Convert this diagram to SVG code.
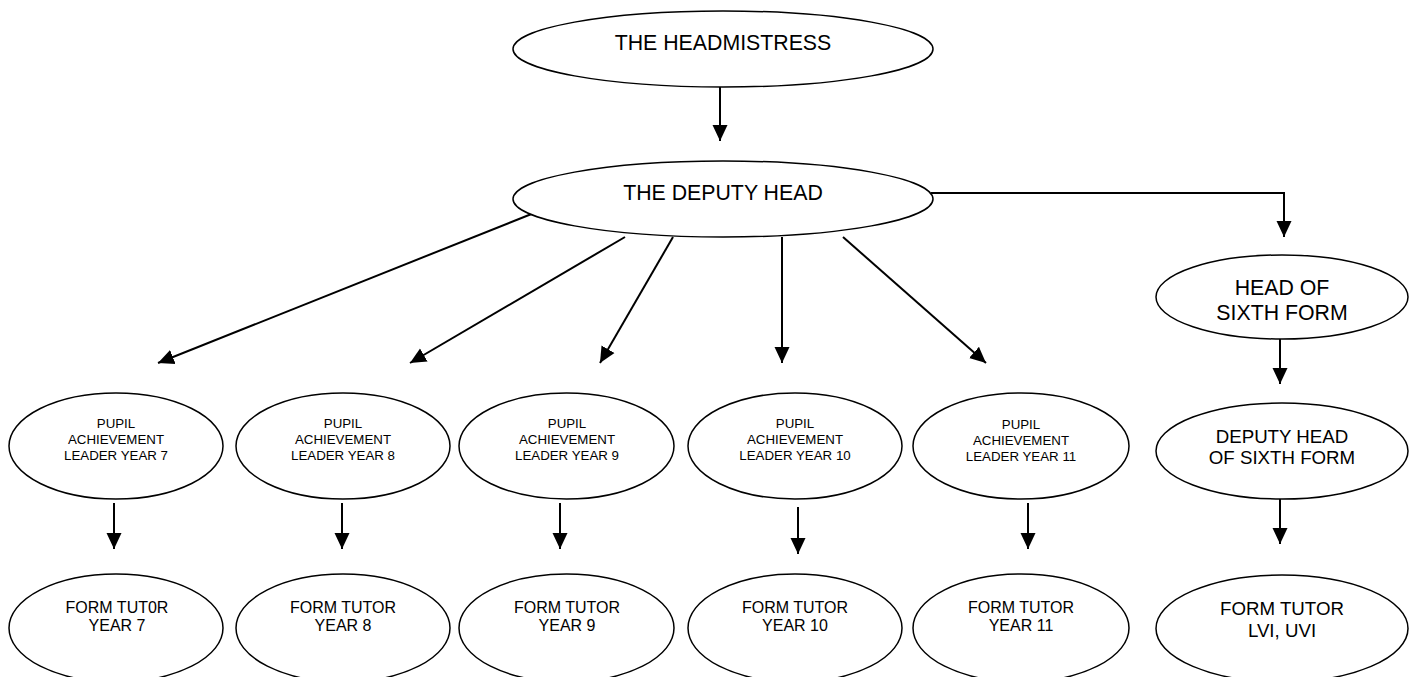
<svg xmlns="http://www.w3.org/2000/svg" width="1418" height="677" viewBox="0 0 1418 677">
<style>
  .node ellipse { fill: #ffffff; stroke: #000000; stroke-width: 1.5; }
  .node text { font-family: "Liberation Sans", Arial, sans-serif; fill: #000000; text-anchor: middle; }
  .big { font-size: 21.3px; }
  .mid { font-size: 18.7px; }
  .tut { font-size: 16px; }
  .small { font-size: 13.3px; }
  #connectors line, #connectors polyline { stroke: #000000; stroke-width: 2; fill: none; marker-end: url(#arrow); }
</style>
<defs>
  <marker id="arrow" markerUnits="userSpaceOnUse" markerWidth="17" markerHeight="16" viewBox="0 0 17 16" refX="16" refY="8" orient="auto">
    <path d="M0,0.5 L16,8 L0,15.5 z" fill="#000000"/>
  </marker>
</defs>
<rect width="1418" height="677" fill="#ffffff"/>

<g id="connectors">
  <line x1="720" y1="87" x2="720" y2="141"/>
  <polyline points="931,193 1284,193 1284,237"/>
  <line x1="534" y1="213" x2="158" y2="363"/>
  <line x1="625" y1="237" x2="410" y2="363"/>
  <line x1="673" y1="237" x2="600" y2="363"/>
  <line x1="782" y1="237" x2="782" y2="363"/>
  <line x1="843" y1="237" x2="986" y2="363"/>
  <line x1="114" y1="503" x2="114" y2="549"/>
  <line x1="342" y1="503" x2="342" y2="549"/>
  <line x1="560" y1="503" x2="560" y2="549"/>
  <line x1="798" y1="507" x2="798" y2="554"/>
  <line x1="1028" y1="503" x2="1028" y2="549"/>
  <line x1="1280" y1="339" x2="1280" y2="384"/>
  <line x1="1280" y1="499" x2="1280" y2="544"/>
</g>

<g id="headmistress" class="node">
  <ellipse cx="723" cy="49" rx="210" ry="38"/>
  <text class="big" x="723" y="50">THE HEADMISTRESS</text>
</g>
<g id="deputy-head" class="node">
  <ellipse cx="723" cy="199" rx="210" ry="38"/>
  <text class="big" x="723" y="200">THE DEPUTY HEAD</text>
</g>
<g id="head-sixth" class="node">
  <ellipse cx="1282" cy="297" rx="126" ry="42"/>
  <text class="big" x="1282" y="295">HEAD OF</text>
  <text class="big" x="1282" y="320">SIXTH FORM</text>
</g>
<g id="deputy-sixth" class="node">
  <ellipse cx="1282" cy="451" rx="126" ry="48"/>
  <text class="mid" x="1282" y="443">DEPUTY HEAD</text>
  <text class="mid" x="1282" y="464">OF SIXTH FORM</text>
</g>

<g id="pal-7" class="node">
  <ellipse cx="116" cy="446" rx="107" ry="53"/>
  <text class="small" x="116" y="428">PUPIL</text>
  <text class="small" x="116" y="444">ACHIEVEMENT</text>
  <text class="small" x="116" y="460">LEADER YEAR 7</text>
</g>
<g id="pal-8" class="node">
  <ellipse cx="343" cy="446" rx="107" ry="53"/>
  <text class="small" x="343" y="428">PUPIL</text>
  <text class="small" x="343" y="444">ACHIEVEMENT</text>
  <text class="small" x="343" y="460">LEADER YEAR 8</text>
</g>
<g id="pal-9" class="node">
  <ellipse cx="566.5" cy="446" rx="107.5" ry="53"/>
  <text class="small" x="567" y="428">PUPIL</text>
  <text class="small" x="567" y="444">ACHIEVEMENT</text>
  <text class="small" x="567" y="460">LEADER YEAR 9</text>
</g>
<g id="pal-10" class="node">
  <ellipse cx="795" cy="446" rx="107" ry="53"/>
  <text class="small" x="795" y="428">PUPIL</text>
  <text class="small" x="795" y="444">ACHIEVEMENT</text>
  <text class="small" x="795" y="460">LEADER YEAR 10</text>
</g>
<g id="pal-11" class="node">
  <ellipse cx="1021" cy="446" rx="108" ry="53"/>
  <text class="small" x="1021" y="429">PUPIL</text>
  <text class="small" x="1021" y="445">ACHIEVEMENT</text>
  <text class="small" x="1021" y="461">LEADER YEAR 11</text>
</g>

<g id="tutor-7" class="node">
  <ellipse cx="116" cy="628" rx="107" ry="54"/>
  <text class="tut" x="117" y="613">FORM TUT0R</text>
  <text class="tut" x="117" y="631">YEAR 7</text>
</g>
<g id="tutor-8" class="node">
  <ellipse cx="343" cy="628" rx="107" ry="54"/>
  <text class="tut" x="343" y="613">FORM TUTOR</text>
  <text class="tut" x="343" y="631">YEAR 8</text>
</g>
<g id="tutor-9" class="node">
  <ellipse cx="566.5" cy="628" rx="107.5" ry="54"/>
  <text class="tut" x="567" y="613">FORM TUTOR</text>
  <text class="tut" x="567" y="631">YEAR 9</text>
</g>
<g id="tutor-10" class="node">
  <ellipse cx="795" cy="628" rx="107" ry="54"/>
  <text class="tut" x="795" y="613">FORM TUTOR</text>
  <text class="tut" x="795" y="631">YEAR 10</text>
</g>
<g id="tutor-11" class="node">
  <ellipse cx="1021" cy="628" rx="108" ry="54"/>
  <text class="tut" x="1021" y="613">FORM TUTOR</text>
  <text class="tut" x="1021" y="631">YEAR 11</text>
</g>
<g id="tutor-sixth" class="node">
  <ellipse cx="1282" cy="628.5" rx="126" ry="53.5"/>
  <text class="mid" x="1282" y="615">FORM TUTOR</text>
  <text class="mid" x="1282" y="637">LVI, UVI</text>
</g>
</svg>
